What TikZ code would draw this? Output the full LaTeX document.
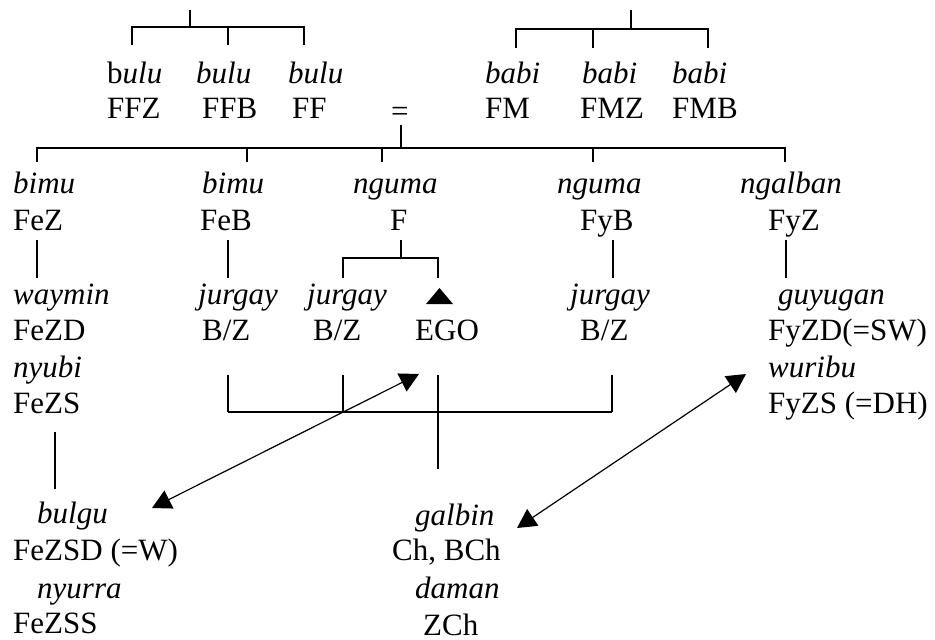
\documentclass[tikz,border=0pt]{standalone}
\usepackage{fontspec}
\setmainfont{Liberation Serif}
\usetikzlibrary{arrows.meta}
\newcommand\kinsize{\fontsize{31}{37}\selectfont}
\tikzset{
  term/.style  = {anchor=base west, inner sep=0pt, font=\kinsize\itshape},
  gloss/.style = {anchor=base west, inner sep=0pt, font=\kinsize},
  tie/.style   = {line width=1.2pt},
  link/.style  = {line width=1.2pt,
                  {Triangle[length=19pt,width=20pt]}-{Triangle[length=19pt,width=20pt]}},
}

\begin{document}
\begin{tikzpicture}[x=1pt, y=-1pt]
\useasboundingbox (0,0) rectangle (935,640);
% ---- grandparents ----
\node[gloss] (tFFZ) at (107,83)  {b\textit{ulu}};
\node[gloss] (FFZ)  at (107,118) {FFZ};
\node[term]  (tFFB) at (196,83)  {bulu};
\node[gloss] (FFB)  at (202,118) {FFB};
\node[term]  (tFF)  at (288,83)  {bulu};
\node[gloss] (FF)   at (292,118) {FF};
\node[gloss] (marr) at (391,121) {=};
\node[term]  (tFM)  at (485,83)  {babi};
\node[gloss] (FM)   at (485,118) {FM};
\node[term]  (tFMZ) at (582,83)  {babi};
\node[gloss] (FMZ)  at (580,118) {FMZ};
\node[term]  (tFMB) at (672,83)  {babi};
\node[gloss] (FMB)  at (672,118) {FMB};
% ---- father and his siblings ----
\node[term]  (tFeZ) at (13,193)  {bimu};
\node[gloss] (FeZ)  at (13,230)  {FeZ};
\node[term]  (tFeB) at (202,193) {bimu};
\node[gloss] (FeB)  at (200,230) {FeB};
\node[term]  (tF)   at (353,193) {nguma};
\node[gloss] (F)    at (390,230) {F};
\node[term]  (tFyB) at (557,193) {nguma};
\node[gloss] (FyB)  at (580,230) {FyB};
\node[term]  (tFyZ) at (740,193) {ngalban};
\node[gloss] (FyZ)  at (768,230) {FyZ};
% ---- ego's generation ----
\node[term]  (tFeZD) at (13,304)  {waymin};
\node[gloss] (FeZD)  at (13,340)  {FeZD};
\node[term]  (tFeZS) at (13,377)  {nyubi};
\node[gloss] (FeZS)  at (13,413)  {FeZS};
\node[term]  (tBZa)  at (198,304) {jurgay};
\node[gloss] (BZa)   at (202,340) {B/Z};
\node[term]  (tBZb)  at (307,304) {jurgay};
\node[gloss] (BZb)   at (313,340) {B/Z};
\node[gloss] (EGO)   at (415,340) {EGO};
\node[term]  (tBZc)  at (570,304) {jurgay};
\node[gloss] (BZc)   at (580,340) {B/Z};
\node[term]  (tFyZD) at (778,304) {guyugan};
\node[gloss] (FyZD)  at (768,340) {FyZD(=SW)};
\node[term]  (tFyZS) at (768,377) {wuribu};
\node[gloss] (FyZS)  at (768,413) {FyZS (=DH)};
% ---- children ----
\node[term]  (tFeZSD) at (37,523)  {bulgu};
\node[gloss] (FeZSD)  at (13,560)  {FeZSD (=W)};
\node[term]  (tFeZSS) at (37,598)  {nyurra};
\node[gloss] (FeZSS)  at (13,633)  {FeZSS};
\node[term]  (tCh)    at (415,525) {galbin};
\node[gloss] (Ch)     at (392,560) {Ch, BCh};
\node[term]  (tZCh)   at (415,598) {daman};
\node[gloss] (ZCh)    at (423,635) {ZCh};
% ---- ego marker ----
\coordinate (egomark) at (439.5,296);
\fill (egomark) ++(-13.5,8) -- ++(27,0) -- ++(-13.5,-16) -- cycle;
% ---- sibling sets, top row ----
\coordinate (ffz) at (132,45);
\coordinate (ffb) at (228,45);
\coordinate (ff)  at (304,45);
\coordinate (ffup) at (190,10);
\draw[tie] (ffz) -- ++(0,-18) -| (ff);
\draw[tie] (ffb) -- ++(0,-18);
\draw[tie] (ffup) -- ++(0,17);
\coordinate (fm)  at (516,48);
\coordinate (fmz) at (593,48);
\coordinate (fmb) at (708,48);
\coordinate (fmup) at (631,10);
\draw[tie] (fm) -- ++(0,-19) -| (fmb);
\draw[tie] (fmz) -- ++(0,-19);
\draw[tie] (fmup) -- ++(0,19);
% ---- marriage and father's siblings ----
\coordinate (eq) at (401,125);
\coordinate (fez) at (37,162);
\coordinate (feb) at (247,162);
\coordinate (f)   at (382,162);
\coordinate (fyb) at (593,162);
\coordinate (fyz) at (785,162);
\draw[tie] (eq) -- ++(0,23);
\draw[tie] (fez) -- ++(0,-14) -| (fyz);
\foreach \c in {feb,f,fyb}
  \draw[tie] (\c) -- ++(0,-14);
% ---- descent lines ----
\foreach \x in {37,228,613,786}
  \draw[tie] (\x,240) -- ++(0,38);
\coordinate (fdown) at (401,240);
\draw[tie] (fdown) -- ++(0,18);
\draw[tie] (343,278) -- ++(0,-20) -| (438,278);
\coordinate (fezs) at (55,432);
\draw[tie] (fezs) -- ++(0,57);
% ---- children of ego and siblings ----
\foreach \x in {228,343,612}
  \draw[tie] (\x,375) -- ++(0,37);
\draw[tie] (228,412) -- (612,412);
\draw[tie] (438,375) -- ++(0,94);
% ---- equivalences ----
\coordinate (wA) at (152,508);
\coordinate (wB) at (419,374);
\coordinate (dhA) at (517,528);
\coordinate (dhB) at (746,374);
\draw[link] (wA) -- (wB);
\draw[link] (dhA) -- (dhB);
\end{tikzpicture}
\end{document}
